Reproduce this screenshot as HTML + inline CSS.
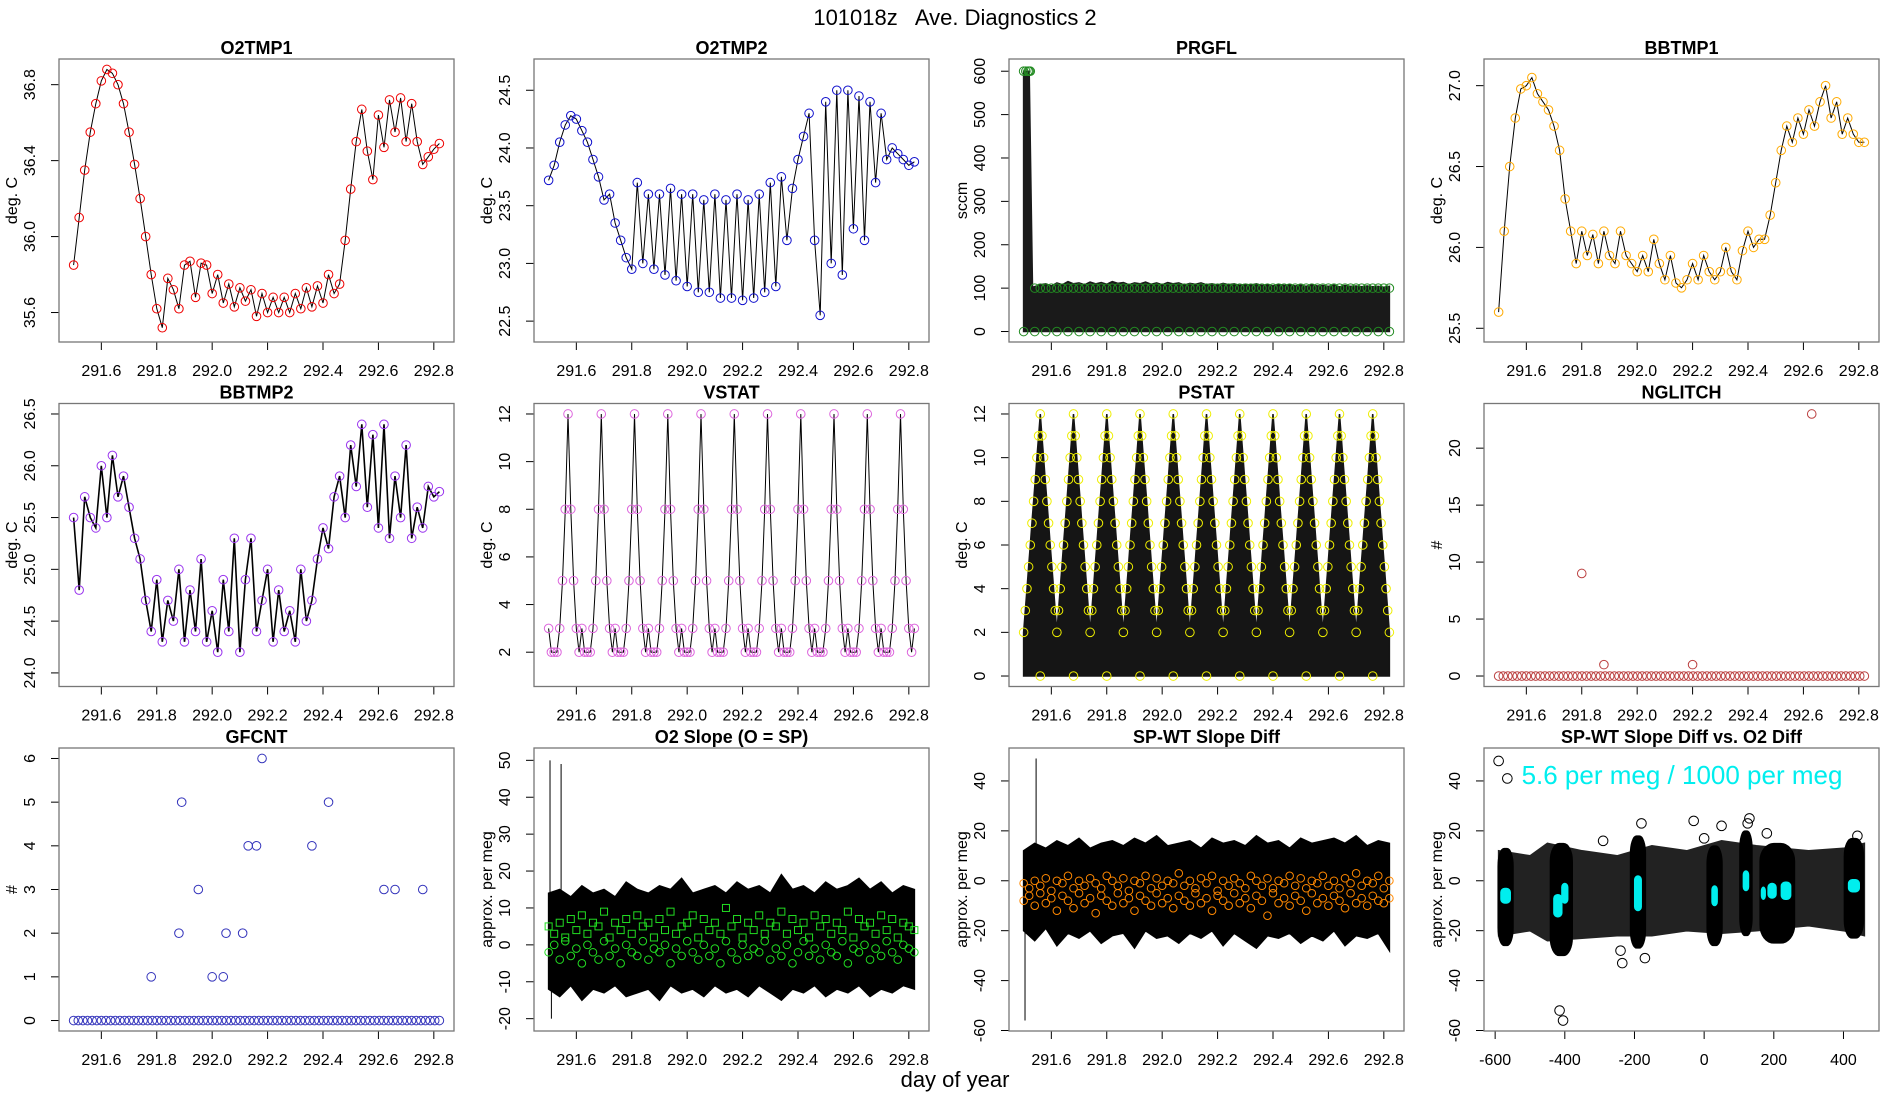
<!DOCTYPE html>
<html><head><meta charset="utf-8"><title>101018z Ave. Diagnostics 2</title>
<style>html,body{margin:0;padding:0;background:#fff}svg{display:block;font-family:"Liberation Sans",Arial,sans-serif}</style>
</head><body>
<svg id="c" width="1900" height="1100" viewBox="0 0 1900 1100" xmlns="http://www.w3.org/2000/svg">
<rect x="0" y="0" width="1900" height="1100" fill="#fff"/>
<text x="955" y="25" font-size="22" text-anchor="middle" xml:space="preserve">101018z   Ave. Diagnostics 2</text>
<text x="955" y="1087" font-size="22" text-anchor="middle">day of year</text>
</svg>
<script>
// ---------- data ----------
const timeRange = [291.5, 292.82];
const o2tmp1 = [35.85,36.1,36.35,36.55,36.7,36.82,36.88,36.86,36.8,36.7,36.55,36.38,36.2,36.0,35.8,35.62,35.52,35.78,35.72,35.62,35.85,35.87,35.68,35.86,35.85,35.7,35.8,35.65,35.75,35.63,35.73,35.66,35.72,35.58,35.7,35.6,35.68,35.6,35.68,35.6,35.7,35.62,35.73,35.63,35.74,35.65,35.8,35.7,35.75,35.98,36.25,36.5,36.67,36.45,36.3,36.64,36.47,36.72,36.55,36.73,36.5,36.7,36.5,36.38,36.42,36.46,36.49];
const o2tmp2 = [23.72,23.85,24.05,24.2,24.28,24.25,24.15,24.05,23.9,23.75,23.55,23.6,23.35,23.2,23.05,22.95,23.7,23.0,23.6,22.95,23.6,22.9,23.65,22.85,23.6,22.8,23.6,22.75,23.55,22.75,23.6,22.7,23.55,22.7,23.6,22.68,23.55,22.7,23.6,22.75,23.7,22.8,23.75,23.2,23.65,23.9,24.1,24.3,23.2,22.55,24.4,23.0,24.5,22.9,24.5,23.3,24.45,23.2,24.4,23.7,24.3,23.9,24.0,23.95,23.9,23.85,23.88];
const prgflTop = [600,600,102,108,110,105,112,108,115,110,112,108,114,110,113,109,115,111,113,108,112,110,114,109,112,108,113,110,112,107,111,109,112,108,110,107,111,108,110,106,109,107,110,106,108,105,109,106,108,105,107,104,108,105,106,104,107,103,106,104,105,103,105,103,104,102,104];
const bbtmp1 = [25.6,26.1,26.5,26.8,26.98,27.0,27.05,26.95,26.9,26.85,26.75,26.6,26.3,26.1,25.9,26.1,25.95,26.08,25.9,26.1,25.95,25.9,26.1,25.95,25.9,25.85,25.95,25.85,26.05,25.9,25.8,25.95,25.78,25.75,25.8,25.9,25.8,25.95,25.85,25.8,25.85,26.0,25.85,25.8,25.98,26.1,26.0,26.05,26.05,26.2,26.4,26.6,26.75,26.65,26.8,26.7,26.85,26.75,26.9,27.0,26.8,26.9,26.7,26.8,26.7,26.65,26.65];
const bbtmp2 = [25.5,24.8,25.7,25.5,25.4,26.0,25.5,26.1,25.7,25.9,25.6,25.3,25.1,24.7,24.4,24.9,24.3,24.7,24.5,25.0,24.3,24.8,24.4,25.1,24.3,24.6,24.2,24.9,24.4,25.3,24.2,24.9,25.3,24.4,24.7,25.0,24.3,24.8,24.4,24.6,24.3,25.0,24.5,24.7,25.1,25.4,25.2,25.7,25.9,25.5,26.2,25.8,26.4,25.6,26.3,25.4,26.4,25.3,25.9,25.5,26.2,25.3,25.6,25.4,25.8,25.7,25.75];
const vstatCycle = [3,2,2,2,3,5,8,12,8,5,3,2];
const vstatCycles = 11;
const pstatCycle = [2,3,4,5,6,7,8,9,10,11,12,11,10,9,8,7,6,5,4,3];
const pstatCycles = 11;
const nglitchBase = 0;
const nglitchT = [291.80,291.88,292.20,292.63];
const nglitchV = [9,1,1,23];
const gfcntT = [291.78,291.88,291.89,291.95,292.0,292.04,292.05,292.11,292.13,292.16,292.18,292.36,292.42,292.62,292.66,292.76];
const gfcntV = [1,2,5,3,1,1,2,2,4,4,6,4,5,3,3,3];
const o2Hi = [14,15,13,16,14,15,13,17,15,14,16,15,18,14,15,16,14,17,15,16,14,19,15,16,14,17,15,16,18,15,17,14,16,15];
const o2Lo = [-12,-14,-11,-15,-12,-13,-11,-14,-13,-12,-15,-11,-13,-12,-14,-11,-13,-12,-14,-11,-13,-15,-12,-13,-11,-14,-12,-13,-11,-14,-12,-13,-11,-12];
const o2SpikeT = [291.505,291.545,291.51];
const o2SpikeV = [50,49,-20];
const o2GreenA = [5,3,6,2,7,4,8,3,6,5,9,2,6,4,7,3,8,5,6,2,7,4,9,3,5,6,8,2,7,4,6,3,10,5,7,2,6,4,8,3,6,5,9,3,7,4,6,2,8,5,7,3,6,4,9,2,7,5,6,3,8,4,7,2,6,5,4];
const o2GreenB = [-2,0,-4,1,-3,-1,-5,0,-2,-4,1,-3,-1,-5,0,-2,-3,1,-4,-1,-2,0,-5,-1,-3,1,-2,-4,0,-3,-1,-5,1,-2,-4,0,-3,-1,-2,1,-4,-1,-3,0,-5,-2,1,-3,-1,-4,0,-2,-3,1,-5,-1,-2,0,-4,-1,-3,1,-2,-4,0,-1,-2];
const spHi = [12,15,13,16,14,17,13,15,16,14,17,15,18,14,15,16,13,17,15,16,14,18,15,16,13,17,15,16,17,15,18,14,16,15];
const spLo = [-20,-24,-19,-26,-21,-23,-20,-25,-22,-21,-27,-20,-23,-22,-25,-21,-23,-20,-26,-21,-24,-27,-22,-23,-21,-25,-22,-24,-20,-26,-22,-23,-21,-28];
const spSpikeT = [291.505,291.545];
const spSpikeV = [-56,49];
const spOrangeA = [-1,-3,0,-2,1,-4,0,-1,2,-3,0,-2,1,-1,-3,2,0,-2,1,-4,0,-1,2,-3,1,-2,0,-1,3,-2,0,-3,1,-1,2,-4,0,-2,1,-1,-3,2,0,-2,1,-3,0,-1,2,-2,1,-3,0,-1,2,-2,0,-3,1,-1,3,-2,0,-1,2,-3,0];
const spOrangeB = [-8,-6,-10,-5,-9,-7,-12,-6,-8,-11,-5,-9,-7,-13,-6,-8,-10,-5,-9,-7,-12,-6,-8,-10,-5,-9,-7,-11,-6,-8,-10,-5,-9,-7,-12,-6,-8,-10,-5,-9,-7,-11,-6,-8,-14,-5,-9,-7,-10,-6,-8,-12,-5,-9,-7,-10,-6,-8,-11,-5,-9,-7,-10,-6,-8,-9,-7];
const cloudX = [-590,-500,-450,-350,-250,-150,-50,50,150,300,400,460];
const cloudHi = [12,10,15,12,10,14,12,16,14,12,13,15];
const cloudLo = [-22,-20,-24,-23,-22,-22,-20,-21,-20,-18,-20,-22];
const clusterX = [-570,-410,-190,30,120,210,430];
const clusterHalfW = [22,32,22,22,18,50,28];
const clusterLo = [-26,-30,-27,-26,-22,-25,-23];
const clusterHi = [13,15,18,14,20,15,17];
const outlierX = [-590,-565,-415,-405,-235,-240,-170,-290,-30,-0,50,130,125,180,440,-180];
const outlierY = [48,41,-52,-56,-33,-28,-31,16,24,17,22,25,23,19,18,23];
const cyanX = [-570,-420,-400,-190,30,120,170,195,235,430];
const cyanY = [-6,-10,-5,-5,-6,0,-5,-4,-4,-2];
const cyanH = [6,9,8,14,8,8,5,6,7,5];
const cyanW = [14,12,9,10,8,8,6,12,14,16];

// ---------- helpers ----------
const NS = 'http://www.w3.org/2000/svg';
const svg = document.getElementById('c');
function el(tag, parent, attrs) {
  const e = document.createElementNS(NS, tag);
  for (const k in attrs) e.setAttribute(k, attrs[k]);
  parent.appendChild(e);
  return e;
}
function pad(lo, hi) { const d = (hi - lo) * 0.04; return [lo - d, hi + d]; }
const defs = el('defs', svg, {});
const tDom = pad(timeRange[0], timeRange[1]);
const tTicks = [291.6, 291.8, 292.0, 292.2, 292.4, 292.6, 292.8];
function timesOf(n) { const a = []; for (let i = 0; i < n; i++) a.push(timeRange[0] + (timeRange[1] - timeRange[0]) * i / (n - 1)); return a; }

function makePanel(r, c, name, title, ylabel, xdom, ydom, xticks, yticks, xfmt, yfmt) {
  const x0 = 59 + 475 * c, x1 = x0 + 395, y0 = 59 + 344.5 * r, y1 = y0 + 283;
  const g = el('g', svg, {});
  
  
  const sx = v => x0 + (v - xdom[0]) / (xdom[1] - xdom[0]) * 395;
  const sy = v => y1 - (v - ydom[0]) / (ydom[1] - ydom[0]) * 283;
  const cp = el('clipPath', defs, { id: 'clip-' + name });
  el('rect', cp, { x: x0, y: y0, width: 395, height: 283 });
  const t = el('text', g, { x: (x0 + x1) / 2, y: y0 - 5, 'font-size': 18, 'font-weight': 'bold', 'text-anchor': 'middle' });
  t.textContent = title;
  
  
  const xa = el('g', g, {});
  
  
  el('line', xa, { x1: sx(xticks[0]), x2: sx(xticks[xticks.length - 1]), y1: y1, y2: y1, stroke: '#000' });
  xticks.forEach(v => {
    el('line', xa, { x1: sx(v), x2: sx(v), y1: y1, y2: y1 + 8, stroke: '#000' });
    const tl = el('text', xa, { x: sx(v), y: y1 + 34, 'font-size': 16, 'text-anchor': 'middle' });
    tl.textContent = xfmt(v);
    
    
  });
  const ya = el('g', g, {});
  
  
  el('line', ya, { x1: x0, x2: x0, y1: sy(yticks[0]), y2: sy(yticks[yticks.length - 1]), stroke: '#000' });
  yticks.forEach(v => {
    el('line', ya, { x1: x0 - 8, x2: x0, y1: sy(v), y2: sy(v), stroke: '#000' });
    const tl = el('text', ya, { x: 0, y: 0, 'font-size': 16, 'text-anchor': 'middle', transform: `translate(${x0 - 24},${sy(v)}) rotate(-90)` });
    tl.textContent = yfmt(v);
    
    
  });
  const yl = el('text', g, { x: 0, y: 0, 'font-size': 16, 'text-anchor': 'middle', transform: `translate(${x0 - 42},${(y0 + y1) / 2}) rotate(-90)` });
  yl.textContent = ylabel;
  
  
  const plot = el('g', g, { 'clip-path': 'url(#clip-' + name + ')' });
  
  
  return { g, plot, sx, sy, box() {
    const b = el('rect', g, { x: x0, y: y0, width: 395, height: 283, fill: 'none', stroke: '#777', 'stroke-width': 1.3 });
    
    
  } };
}
const f1 = v => v.toFixed(1), f0 = v => String(v);
function line(p, xs, ys, name, color, w) {
  const pl = el('polyline', p.plot, { points: xs.map((x, i) => p.sx(x).toFixed(1) + ',' + p.sy(ys[i]).toFixed(1)).join(' '), fill: 'none', stroke: color || '#000', 'stroke-width': w || 1 });
  
  
}
function circles(p, xs, ys, name, color, r) {
  xs.forEach((x, i) => {
    const ci = el('circle', p.plot, { cx: p.sx(x), cy: p.sy(ys[i]), r: r || 4.3, fill: 'none', stroke: color, 'stroke-width': 1 });
    
    
  });
}
function squares(p, xs, ys, name, color) {
  xs.forEach((x, i) => {
    const s = el('rect', p.plot, { x: p.sx(x) - 3.5, y: p.sy(ys[i]) - 3.5, width: 7, height: 7, fill: 'none', stroke: color, 'stroke-width': 1 });
    
    
  });
}
function band(p, xs, hi, lo, name, color) {
  const pts = xs.map((x, i) => p.sx(x).toFixed(1) + ',' + p.sy(hi[i]).toFixed(1));
  for (let i = xs.length - 1; i >= 0; i--) pts.push(p.sx(xs[i]).toFixed(1) + ',' + p.sy(lo[i]).toFixed(1));
  const pg = el('polygon', p.plot, { points: pts.join(' '), fill: color || '#000', stroke: color || '#000', 'stroke-width': 1.5 });
  
  
}
function cycleSeries(cyc, n) { const v = []; for (let k = 0; k < n; k++) for (const c of cyc) v.push(c); v.push(cyc[0]); return v; }

// ---------- Panel 1 O2TMP1 ----------
(function () {
  const p = makePanel(0, 0, 'o2tmp1', 'O2TMP1', 'deg. C', tDom, pad(35.5, 36.88), tTicks, [35.6, 36.0, 36.4, 36.8], f1, f1);
  const t = timesOf(o2tmp1.length);
  line(p, t, o2tmp1, 'o2tmp1-line');
  circles(p, t, o2tmp1, 'o2tmp1-point', '#ee0000');
  p.box();
})();
// ---------- Panel 2 O2TMP2 ----------
(function () {
  const p = makePanel(0, 1, 'o2tmp2', 'O2TMP2', 'deg. C', tDom, pad(22.41, 24.68), tTicks, [22.5, 23.0, 23.5, 24.0, 24.5], f1, f1);
  const t = timesOf(o2tmp2.length);
  line(p, t, o2tmp2, 'o2tmp2-line');
  circles(p, t, o2tmp2, 'o2tmp2-point', '#1010cc');
  p.box();
})();
// ---------- Panel 3 PRGFL ----------
(function () {
  const p = makePanel(0, 2, 'prgfl', 'PRGFL', 'sccm', tDom, pad(0, 604), tTicks, [0, 100, 200, 300, 400, 500, 600], f1, f0);
  const t = timesOf(prgflTop.length);
  const zeros = prgflTop.map(() => 0);
  const tb = t.slice(); tb[2] = t[1] + 0.012;
  band(p, tb, prgflTop, zeros, 'prgfl-flow-band', '#1a1a1a');
  circles(p, t.slice(0, 2), prgflTop.slice(0, 2), 'prgfl-point', '#228b22');
  circles(p, [t[0] + 0.008, t[0] + 0.016, t[0] + 0.024], [600, 600, 600], 'prgfl-point', '#228b22');
  circles(p, t.slice(2), prgflTop.slice(2).map(v => 100), 'prgfl-point', '#228b22');
  circles(p, t.filter((x, i) => i % 2 === 0), zeros.filter((x, i) => i % 2 === 0), 'prgfl-zero-point', '#228b22');
  p.box();
})();
// ---------- Panel 4 BBTMP1 ----------
(function () {
  const p = makePanel(0, 3, 'bbtmp1', 'BBTMP1', 'deg. C', tDom, pad(25.48, 27.1), tTicks, [25.5, 26.0, 26.5, 27.0], f1, f1);
  const t = timesOf(bbtmp1.length);
  line(p, t, bbtmp1, 'bbtmp1-line');
  circles(p, t, bbtmp1, 'bbtmp1-point', '#ffaa00');
  p.box();
})();
// ---------- Panel 5 BBTMP2 ----------
(function () {
  const p = makePanel(1, 0, 'bbtmp2', 'BBTMP2', 'deg. C', tDom, pad(23.97, 26.5), tTicks, [24.0, 24.5, 25.0, 25.5, 26.0, 26.5], f1, f1);
  const t = timesOf(bbtmp2.length);
  line(p, t, bbtmp2, 'bbtmp2-line', '#000', 1.6);
  circles(p, t, bbtmp2, 'bbtmp2-point', '#9933ee');
  p.box();
})();
// ---------- Panel 6 VSTAT ----------
(function () {
  const p = makePanel(1, 1, 'vstat', 'VSTAT', 'deg. C', tDom, pad(1, 12), tTicks, [2, 4, 6, 8, 10, 12], f1, f0);
  const v = cycleSeries(vstatCycle, vstatCycles);
  const t = timesOf(v.length);
  line(p, t, v, 'vstat-line');
  circles(p, t, v, 'vstat-point', '#dd66dd');
  p.box();
})();
// ---------- Panel 7 PSTAT ----------
(function () {
  const p = makePanel(1, 2, 'pstat', 'PSTAT', 'deg. C', tDom, pad(0, 12), tTicks, [0, 2, 4, 6, 8, 10, 12], f1, f0);
  const v = cycleSeries(pstatCycle, pstatCycles);
  const t = timesOf(v.length);
  band(p, t, v, v.map(() => 0), 'pstat-fill', '#151515');
  circles(p, t, v, 'pstat-point', '#eeee00');
  const peakT = t.filter((x, i) => v[i] === 12);
  circles(p, peakT, peakT.map(() => 0), 'pstat-zero-point', '#eeee00');
  p.box();
})();
// ---------- Panel 8 NGLITCH ----------
(function () {
  const p = makePanel(1, 3, 'nglitch', 'NGLITCH', '#', tDom, pad(0, 23), tTicks, [0, 5, 10, 15, 20], f1, f0);
  const t = timesOf(80);
  circles(p, t, t.map(() => nglitchBase), 'nglitch-zero-point', '#bb4040');
  circles(p, nglitchT, nglitchV, 'nglitch-point', '#bb4040');
  p.box();
})();
// ---------- Panel 9 GFCNT ----------
(function () {
  const p = makePanel(2, 0, 'gfcnt', 'GFCNT', '#', tDom, pad(0, 6), tTicks, [0, 1, 2, 3, 4, 5, 6], f1, f0);
  const t = timesOf(80);
  circles(p, t, t.map(() => 0), 'gfcnt-zero-point', '#3333bb');
  circles(p, gfcntT, gfcntV, 'gfcnt-point', '#3333bb');
  p.box();
})();
// ---------- Panel 10 O2 Slope ----------
(function () {
  const p = makePanel(2, 1, 'o2-slope', 'O2 Slope (O = SP)', 'approx. per meg', tDom, pad(-20.5, 50.5), tTicks, [-20, -10, 0, 10, 20, 30, 40, 50], f1, f0);
  band(p, timesOf(o2Hi.length), o2Hi, o2Lo, 'o2-slope-noise-band');
  o2SpikeT.forEach((x, i) => {
    const s = el('line', p.plot, { x1: p.sx(x), x2: p.sx(x), y1: p.sy(0), y2: p.sy(o2SpikeV[i]), stroke: '#000' });
    
    
  });
  squares(p, timesOf(o2GreenA.length), o2GreenA, 'o2-slope-marker', '#22dd22');
  circles(p, timesOf(o2GreenB.length), o2GreenB, 'o2-slope-marker', '#22dd22', 3.8);
  p.box();
})();
// ---------- Panel 11 SP-WT ----------
(function () {
  const p = makePanel(2, 2, 'sp-wt', 'SP-WT Slope Diff', 'approx. per meg', tDom, pad(-56, 49), tTicks, [-60, -40, -20, 0, 20, 40], f1, f0);
  band(p, timesOf(spHi.length), spHi, spLo, 'sp-wt-noise-band');
  spSpikeT.forEach((x, i) => {
    const s = el('line', p.plot, { x1: p.sx(x), x2: p.sx(x), y1: p.sy(0), y2: p.sy(spSpikeV[i]), stroke: '#000' });
    
    
  });
  circles(p, timesOf(spOrangeA.length), spOrangeA, 'sp-wt-marker', '#ff8800', 3.8);
  circles(p, timesOf(spOrangeB.length), spOrangeB, 'sp-wt-marker', '#ff8800', 3.8);
  p.box();
})();
// ---------- Panel 12 scatter ----------
(function () {
  const p = makePanel(2, 3, 'slope-vs-o2', 'SP-WT Slope Diff vs. O2 Diff', 'approx. per meg', pad(-590, 460), pad(-56, 49), [-600, -400, -200, 0, 200, 400], [-60, -40, -20, 0, 20, 40], f0, f0);
  band(p, cloudX, cloudHi, cloudLo, 'scatter-background-cloud', '#222');
  clusterX.forEach((x, i) => {
    const left = p.sx(x - clusterHalfW[i]), right = p.sx(x + clusterHalfW[i]);
    const top = p.sy(clusterHi[i]), bot = p.sy(clusterLo[i]);
    const e = el('rect', p.plot, { x: left, y: top, width: right - left, height: bot - top, rx: (right - left) / 2.5, ry: 18, fill: '#000', stroke: '#000' });
    
    
  });
  circles(p, outlierX, outlierY, 'scatter-outlier', '#000', 4.8);
  cyanX.forEach((x, i) => {
    const left = p.sx(x - cyanW[i]), right = p.sx(x + cyanW[i]);
    const top = p.sy(cyanY[i] + cyanH[i] / 2), bot = p.sy(cyanY[i] - cyanH[i] / 2);
    const e = el('rect', p.plot, { x: left, y: top, width: right - left, height: bot - top, rx: 4, fill: '#00eeee', stroke: '#00eeee' });
    
    
  });
  const a = el('text', p.g, { x: 1682, y: 784, 'font-size': 26, fill: '#00eeee', 'text-anchor': 'middle' });
  a.textContent = '5.6 per meg / 1000 per meg';
  
  
  p.box();
})();
</script>
</body></html>
